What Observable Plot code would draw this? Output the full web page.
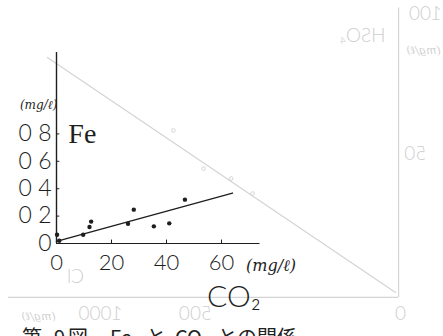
<!DOCTYPE html>
<html>
<head>
<meta charset="utf-8">
<script src="https://cdn.jsdelivr.net/npm/d3@7"></script>
<script src="https://cdn.jsdelivr.net/npm/@observablehq/plot@0.6"></script>
<style>
  html, body { margin: 0; padding: 0; background: #fff; overflow: hidden; }
  #fig { position: relative; width: 443px; height: 336px; }
  #caption {
    position: absolute; left: 22px; top: 327px; margin: 0;
    font-family: "Noto Sans CJK JP", sans-serif; font-size: 20px; line-height: 1;
    color: #222; white-space: nowrap;
  }
  #caption span { display: inline-block; }
  #caption sub { font-size: 13px; vertical-align: -4px; line-height: 0; }
</style>
</head>
<body>
<div id="fig"></div>
<script>
// Fe concentration against CO2 (both mg/ℓ)
const co2 = [0.2, 1, 9.7, 12, 12.6, 26, 28.1, 35.4, 41, 46.7];
const fe  = [0.064, 0.02, 0.064, 0.12, 0.16, 0.144, 0.247, 0.125, 0.147, 0.32];

// fitted straight line (end points)
const fitCo2 = [0, 64];
const fitFe  = [0.016, 0.368];

// axis ticks
const yTicks = [0, 0.2, 0.4, 0.6, 0.8];
const yTickLabels = ["0", "0 2", "0 4", "0 6", "0 8"];
const xTicks = [0, 20, 40, 60];
const xTickLabels = ["0", "20", "40", "60"];
const xAxisEnd = 74;
const yAxisEnd = 1.394;

// faint HSO4 / Cl plot showing through from the reverse side (mirrored)
const ghostLineX = [-3.3, 123.3];
const ghostLineY = [1.358, -0.358];
const ghostFrameX = 124.4;
const ghostFrameY = -0.394;
const ghostDotX = [42.5, 53.5, 63.5, 71.3];
const ghostDotY = [0.825, 0.547, 0.474, 0.365];
const ghostText  = ["100", "HSO₄", "50", "Cl", "1000", "500", "0"];
const ghostTextX = [134.2, 111.3, 130.5, 6.9, 16, 50.5, 125.1];
const ghostTextY = [1.628, 1.474, 0.606, -0.285, -0.555, -0.555, -0.555];
const ghostUnitX = [133.5, -6.5];
const ghostUnitY = [1.38, -0.555];

const ink = "#1e1e1e";
const ghostInk = "#d4d4d4";
const ghostTextInk = "#cfcfcf";
const ghostUnitInk = "#d0d0d0";
const digitFont = "Lato, 'Liberation Sans', sans-serif";
const idx = (arr) => arr.map((_, i) => i);

const chart = Plot.plot({
  width: 443,
  height: 336,
  marginLeft: 56, marginRight: 2, marginTop: 0, marginBottom: 0,
  x: {domain: [0, 140], axis: null},
  y: {domain: [-0.679, 1.774], axis: null},
  style: {background: "white", overflow: "visible"},
  marks: [
    // show-through layer
    Plot.line(idx(ghostLineX), {x: i => ghostLineX[i], y: i => ghostLineY[i], stroke: ghostInk, strokeWidth: 1.2}),
    Plot.ruleX([ghostFrameX], {y1: 1.72, y2: ghostFrameY, stroke: ghostInk, strokeWidth: 1.2}),
    Plot.ruleY([ghostFrameY], {x1: -17.5, x2: ghostFrameX, stroke: ghostInk, strokeWidth: 1.2}),
    Plot.dot(idx(ghostDotX), {x: i => ghostDotX[i], y: i => ghostDotY[i], r: 1.8, stroke: ghostInk, strokeWidth: 1}),
    Plot.text(idx(ghostText), {x: i => ghostTextX[i], y: i => ghostTextY[i], text: i => ghostText[i],
      fontSize: 19, fontFamily: digitFont, fontWeight: 300, fill: ghostTextInk}),
    Plot.text(idx(ghostUnitX), {x: i => ghostUnitX[i], y: i => ghostUnitY[i], text: () => "(mg/ℓ)",
      fontSize: 11, fontFamily: "DejaVu Serif", fontStyle: "italic", fill: ghostUnitInk}),

    // axes
    Plot.ruleY([0], {x1: 0, x2: xAxisEnd, stroke: ink, strokeWidth: 1.2}),
    Plot.ruleX([0], {y1: 0, y2: yAxisEnd, stroke: ink, strokeWidth: 1.4}),
    Plot.ruleY(yTicks.slice(1), {x1: 0, x2: 1.2, stroke: ink, strokeWidth: 1}),
    Plot.ruleX(xTicks.slice(1), {y1: 0, y2: 0.025, stroke: ink, strokeWidth: 1}),
    Plot.text(yTicks, {x: 0, y: d => d, text: (d, i) => yTickLabels[i], textAnchor: "end", dx: -5,
      fontSize: 23, fontFamily: digitFont, fontWeight: 300, fill: ink}),
    Plot.text(xTicks, {x: d => d, y: 0, text: (d, i) => xTickLabels[i], dy: 19,
      fontSize: 22, fontFamily: digitFont, fontWeight: 300, fill: ink}),
    Plot.text(["(mg/ℓ)"], {x: 78, y: 0, dy: 22, textAnchor: "middle",
      fontSize: 16, fontFamily: "DejaVu Serif", fontStyle: "italic", fill: ink}),
    Plot.text(["(mg/ℓ)"], {x: -6.5, y: 1.01, textAnchor: "middle",
      fontSize: 12, fontFamily: "DejaVu Serif", fontStyle: "italic", fill: ink}),
    Plot.text(["Fe"], {x: 4.3, y: 0.8, textAnchor: "start",
      fontSize: 28, fontFamily: "Liberation Serif", fill: ink}),
    Plot.text(["CO₂"], {x: 64.5, y: -0.39, textAnchor: "middle",
      fontSize: 30, fontFamily: digitFont, fontWeight: 300, fill: ink}),

    // fitted line and observations
    Plot.line(idx(fitCo2), {x: i => fitCo2[i], y: i => fitFe[i], stroke: ink, strokeWidth: 1.4}),
    Plot.dot(idx(co2), {x: i => co2[i], y: i => fe[i], r: 2.2, fill: ink})
  ]
});

// the show-through lettering reads back to front
d3.select(chart)
  .selectAll(`g[fill="${ghostTextInk}"] text, g[fill="${ghostUnitInk}"] text`)
  .each(function () {
    const t = this.getAttribute("transform");
    const x = +this.getAttribute("x") || 0, y = +this.getAttribute("y") || 0;
    this.removeAttribute("x"); this.removeAttribute("y");
    this.setAttribute("transform", `${t || ""} translate(${x},${y}) scale(-1,1)`);
  });

const fig = document.getElementById("fig");
fig.appendChild(chart);
const cap = document.createElement("p");
cap.id = "caption";
cap.innerHTML =
  '<span>第</span><span style="margin-left:12px">9</span><span style="margin-left:3px">図</span>' +
  '<span style="margin-left:22px">Fe</span><span style="margin-left:14px">と</span>' +
  '<span style="margin-left:9px">CO<sub>2</sub></span><span style="margin-left:8px">との関係</span>';
fig.appendChild(cap);
</script>
</body>
</html>
